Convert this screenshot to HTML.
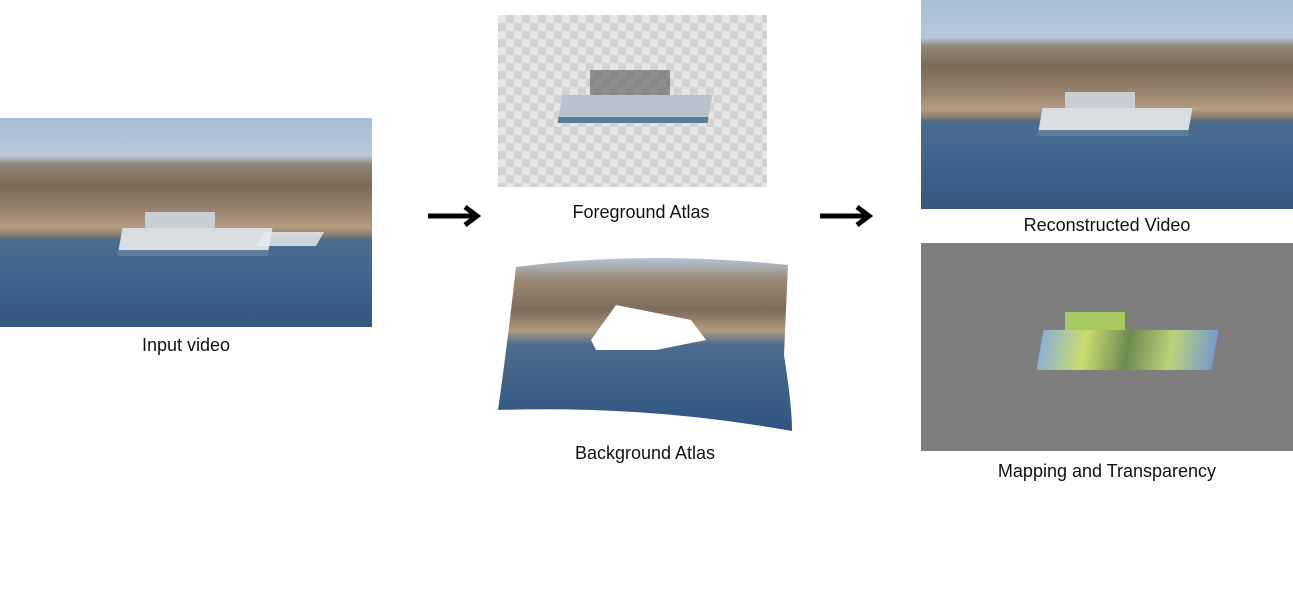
<!DOCTYPE html>
<html><head><meta charset="utf-8"><style>
body{margin:0;width:1293px;height:591px;background:#fff;position:relative;overflow:hidden;font-family:"Liberation Sans",sans-serif;}
.a{position:absolute}
.lbl{position:absolute;font-size:18px;color:#111;text-align:center;width:300px}
.photo{background:linear-gradient(to bottom,#a7bcd6 0%,#b9c8da 18%,#8f8878 22%,#7a6a58 32%,#9a8670 45%,#b49c80 52%,#8f7e6c 56%,#4d6c8e 58%,#3f6690 75%,#35577f 100%);}
.boat{position:absolute;background:#d8dde2;border-bottom:6px solid #5d7b9a;transform:skewX(-10deg)}
</style></head><body>
<div class="a photo" style="left:0;top:118px;width:372px;height:209px"></div>
<div class="boat" style="left:120px;top:228px;width:150px;height:22px"></div>
<div class="a" style="left:145px;top:212px;width:70px;height:16px;background:#c9ced4"></div>
<div class="a" style="left:260px;top:232px;width:60px;height:14px;background:#e8eef3;opacity:.8;transform:skewX(-30deg)"></div>
<div class="lbl" style="left:36px;top:335px">Input video</div>
<svg class="a" style="left:425px;top:203px" width="60" height="26"><line x1="3" y1="13" x2="50" y2="13" stroke="#000" stroke-width="5"/><polyline points="40,4 52,13 40,22" fill="none" stroke="#000" stroke-width="5"/></svg>
<div class="a" style="left:498px;top:15px;width:269px;height:172px;background-color:#e6e6e6;background-image:linear-gradient(45deg,#d2d2d2 25%,transparent 25%,transparent 75%,#d2d2d2 75%),linear-gradient(45deg,#d2d2d2 25%,transparent 25%,transparent 75%,#d2d2d2 75%);background-size:16px 16px;background-position:0 0,8px 8px"></div>
<div class="boat" style="left:560px;top:95px;width:150px;height:22px;background:#b8c2cc"></div>
<div class="a" style="left:590px;top:70px;width:80px;height:25px;background:#555;opacity:.6"></div>
<div class="lbl" style="left:491px;top:202px">Foreground Atlas</div>
<svg class="a" style="left:496px;top:255px" width="302" height="180"><defs><linearGradient id="g" x1="0" y1="0" x2="0" y2="1"><stop offset="0" stop-color="#b4c4d8"/><stop offset=".12" stop-color="#9a8a76"/><stop offset=".3" stop-color="#7d6c5a"/><stop offset=".42" stop-color="#b09a80"/><stop offset=".5" stop-color="#4d6c8e"/><stop offset="1" stop-color="#2f5580"/></linearGradient></defs><path d="M20,12 Q150,-5 292,10 L288,100 Q296,150 296,176 Q150,150 2,155 Q10,100 20,12Z" fill="url(#g)"/><path d="M95,85 L120,50 L195,65 L210,85 L160,95 L100,95Z" fill="#fff"/></svg>
<div class="lbl" style="left:495px;top:443px">Background Atlas</div>
<svg class="a" style="left:817px;top:203px" width="60" height="26"><line x1="3" y1="13" x2="50" y2="13" stroke="#000" stroke-width="5"/><polyline points="40,4 52,13 40,22" fill="none" stroke="#000" stroke-width="5"/></svg>
<div class="a photo" style="left:921px;top:0;width:372px;height:209px"></div>
<div class="boat" style="left:1040px;top:108px;width:150px;height:22px"></div>
<div class="a" style="left:1065px;top:92px;width:70px;height:16px;background:#c9ced4"></div>
<div class="lbl" style="left:957px;top:215px">Reconstructed Video</div>
<div class="a" style="left:921px;top:243px;width:372px;height:208px;background:#7e7e7e"></div>
<div class="a" style="left:1040px;top:330px;width:175px;height:40px;background:linear-gradient(90deg,#8fb0d0,#c8dc70,#6d8a50,#b8d47a,#7a9acb);transform:skewX(-10deg)"></div>
<div class="a" style="left:1065px;top:312px;width:60px;height:18px;background:#a8c860"></div>
<div class="lbl" style="left:957px;top:461px">Mapping and Transparency</div>
</body></html>
